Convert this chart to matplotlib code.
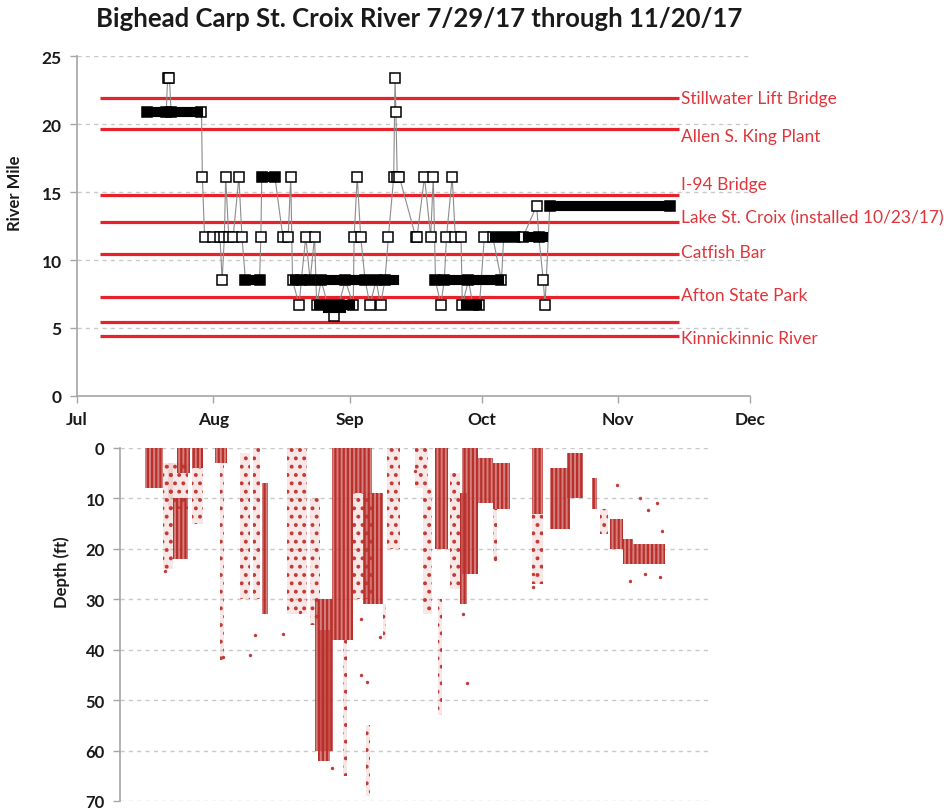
import matplotlib
matplotlib.use('Agg')
import matplotlib.pyplot as plt

plt.rcParams['font.family'] = ['Lato', 'DejaVu Sans']
plt.rcParams['hatch.linewidth'] = 1.6

# ---------------- data ----------------
TITLE = "Bighead Carp St. Croix River 7/29/17 through 11/20/17"
month_labels = ['Jul', 'Aug', 'Sep', 'Oct', 'Nov', 'Dec']
month_days = [0, 31, 62, 92, 123, 153]          # days since 1 Jul 2017

site_names = ['Stillwater Lift Bridge', 'Allen S. King Plant', 'I-94 Bridge',
              'Lake St. Croix (installed 10/23/17)', 'Catfish Bar',
              'Afton State Park', '', 'Kinnickinnic River']
site_miles = [21.9, 19.6, 14.8, 12.8, 10.45, 7.3, 5.45, 4.4]
site_start_day = 5.3
site_end_day = 136.8

# fish track: (day since Jul 1, river mile)
track_day = [16.0, 20.3, 20.6, 21.0, 21.4, 28.3, 28.5, 29.0, 31.0, 32.5, 33.0, 33.5,
             33.8, 34.5, 35.5, 36.8, 37.5, 38.3, 41.5, 41.8, 42.0, 45.0, 46.8, 48.0,
             48.6, 49.0, 50.5, 51.0, 52.0, 53.0, 54.0, 54.5, 55.5, 57.0, 58.5, 59.5,
             61.0, 62.8, 63.0, 63.7, 64.5, 65.5, 66.6, 68.0, 69.0, 70.0, 70.8, 72.0,
             72.3, 72.5, 72.8, 73.3, 77.0, 77.3, 79.0, 80.4, 81.0, 81.5, 82.7, 83.5,
             84.0, 85.3, 86.0, 87.3, 87.6, 89.0, 90.0, 91.5, 92.6, 94.5, 96.5, 97.0,
             99.5, 101.4, 104.5, 105.0, 106.0, 106.4, 107.5, 134.7]
track_mile = [20.9, 20.9, 23.4, 23.4, 20.9, 20.9, 16.1, 11.7, 11.7, 11.7, 8.5, 11.7,
              16.1, 11.7, 11.7, 16.1, 11.7, 8.5, 8.5, 11.7, 16.1, 16.1, 11.7, 11.7,
              16.1, 8.5, 6.7, 8.5, 11.7, 8.5, 11.7, 6.7, 8.5, 6.7, 5.9, 6.7,
              8.5, 6.7, 11.7, 16.1, 11.7, 8.5, 6.7, 8.5, 6.7, 8.5, 11.7, 16.1,
              23.4, 20.9, 16.1, 16.1, 11.7, 11.7, 16.1, 11.7, 16.1, 8.5, 6.7, 8.5,
              11.7, 16.1, 11.7, 11.7, 6.7, 8.5, 6.7, 6.7, 11.7, 11.7, 8.5, 11.7,
              11.7, 11.7, 14.0, 11.7, 8.5, 6.7, 14.0, 14.0]

# continuous detections at one receiver: (start day, end day, river mile)
run_start = [16.0, 38.3, 42.0, 49.5, 55.5, 64.0, 55.0, 57.0, 81.5, 88.5, 95.0, 102.5, 107.5]
run_end = [27.5, 41.5, 45.0, 53.0, 62.5, 72.0, 62.0, 60.0, 96.0, 91.0, 99.5, 106.0, 134.7]
run_mile = [20.9, 8.5, 16.1, 8.5, 8.5, 8.5, 6.7, 6.5, 8.5, 6.7, 11.7, 11.7, 14.0]

# depth detections, dense bands: (start day, end day, shallowest ft, deepest ft)
dense_start = [15.6, 23.0, 22.1, 26.4, 31.7, 42.5, 54.7, 55.4, 58.6, 63.4, 65.7,
               82.3, 88.5, 88.0, 92.0, 95.6, 104.6, 108.7, 112.6, 118.4, 122.5,
               125.5, 127.8]
dense_end = [19.8, 26.0, 25.5, 29.0, 34.5, 43.9, 58.9, 58.2, 63.4, 67.8, 70.3,
             85.3, 92.2, 89.7, 95.6, 99.5, 107.1, 113.3, 116.3, 119.5, 125.5,
             127.8, 135.2]
dense_top = [0, 0, 10, 0, 0, 7, 30, 36, 0, 0, 9,
             0, 0, 9, 2, 3, 0, 4, 1, 6, 14,
             18, 19]
dense_bottom = [8, 5, 22, 4, 3, 33, 60, 62, 38, 9, 31,
                20, 25, 31, 11, 12, 13, 16, 10, 12, 20,
                23, 23]

# depth detections, scattered bands
sparse_start = [19.8, 20.9, 26.4, 32.9, 37.5, 40.5, 48.3, 53.6, 61.1, 63.4, 70.3,
                66.4, 71.3, 77.7, 79.5, 83.0, 85.7, 95.6, 104.6, 120.2]
sparse_end = [22.1, 25.5, 29.0, 33.8, 39.8, 42.1, 52.9, 55.9, 62.1, 67.8, 71.0,
              67.4, 74.3, 80.7, 81.6, 83.9, 88.0, 96.6, 107.1, 122.1]
sparse_top = [3, 3, 4, 3, 1, 0, 0, 10, 38, 9, 31,
              55, 0, 0, 8, 30, 5, 12, 13, 12]
sparse_bottom = [24, 12, 15, 42, 30, 30, 33, 35, 65, 30, 38,
                  69, 20, 8, 33, 53, 28, 22, 27, 17]

# isolated depth detections
pt_day = [20.2, 33.6, 39.8, 40.9, 47.4, 51.3, 65.4, 65.4, 66.6, 69.7, 89.6, 58.6,
          77.7, 88.7, 96.1, 104.8, 104.8, 124.1, 129.4, 131.3, 133.3, 127.1, 134.4,
          134.0, 130.6]
pt_depth = [24.3, 41.4, 41.0, 37.0, 36.8, 32.6, 34.0, 45.0, 46.5, 37.5, 46.6, 63.5,
            4.6, 33.0, 22.1, 25.0, 27.6, 7.4, 10.0, 12.3, 11.0, 26.3, 16.5,
            25.6, 25.0]

# ---------------- figure ----------------
W, H = 945, 812
fig = plt.figure(figsize=(W / 100, H / 100), dpi=100)

RED = '#e8222a'
LABEL_RED = '#e0353a'
DOT_RED = '#c23b36'
GRID = '#c9c9c9'
SPINE = '#a6a6a6'
TXT = '#1a1a1a'

fig.text(419 / W, 1 - 19 / H, TITLE, ha='center', va='center',
         fontsize=18.5, fontweight='bold', color=TXT)

# ---- top: river mile ----
ax = fig.add_axes([77 / W, 1 - 397 / H, 673 / W, 340 / H])
ax.set_xlim(0, 153)
ax.set_ylim(0, 25)
for s in ['top', 'right']:
    ax.spines[s].set_visible(False)
for s in ['left', 'bottom']:
    ax.spines[s].set_color(SPINE)
    ax.spines[s].set_linewidth(1.2)
ax.set_yticks([0, 5, 10, 15, 20, 25])
ax.set_xticks(month_days)
ax.set_xticklabels(month_labels)
ax.tick_params(axis='both', colors=SPINE, labelcolor=TXT, labelsize=12.5,
               length=5, width=1)
for t in ax.get_xticklabels() + ax.get_yticklabels():
    t.set_fontweight('bold')
ax.tick_params(axis='x', pad=6)
ax.tick_params(axis='y', pad=6)
ax.yaxis.grid(True, linestyle=(0, (3, 3)), color=GRID, linewidth=1)
ax.set_axisbelow(True)
fig.text(15 / W, 1 - 193 / H, 'River Mile', rotation=90, ha='center', va='center',
         fontsize=12, fontweight='bold', color=TXT)

label_offsets = [0.0, -0.5, 0.8, 0.3, 0.15, 0.1, 0.0, -0.1]
for name, mile, off in zip(site_names, site_miles, label_offsets):
    ax.hlines(mile, site_start_day, site_end_day, color=RED, linewidth=2.3, zorder=2)
    if name:
        ax.text(site_end_day + 0.6, mile + off, name, color=LABEL_RED, fontsize=12.5,
                va='center', ha='left', clip_on=False)

ax.plot(track_day, track_mile, color='#8c8c8c', linewidth=0.8, zorder=3)
ax.plot(track_day, track_mile, linestyle='none', marker='s', markersize=7.3,
        markerfacecolor='white', markeredgecolor='black', markeredgewidth=1.1, zorder=5)
ax.hlines(run_mile, run_start, run_end, color='black', linewidth=7.3, zorder=6,
          capstyle='projecting')

# ---- bottom: depth ----
ax2 = fig.add_axes([120 / W, 1 - 802 / H, 592 / W, 353 / H])
ax2.set_xlim((120 - 77) / 4.35, (712 - 77) / 4.35)
ax2.set_ylim(70, 0)
for s in ['top', 'right', 'bottom']:
    ax2.spines[s].set_visible(False)
ax2.spines['left'].set_color(SPINE)
ax2.spines['left'].set_linewidth(1.2)
ax2.set_yticks([0, 10, 20, 30, 40, 50, 60, 70])
ax2.set_xticks([])
ax2.tick_params(axis='y', colors=SPINE, labelcolor=TXT, labelsize=12,
                length=5, width=1, pad=6)
for t in ax2.get_yticklabels():
    t.set_fontweight('bold')
ax2.yaxis.grid(True, linestyle=(0, (3, 3)), color=GRID, linewidth=1)
ax2.set_axisbelow(True)
fig.text(62 / W, 1 - 572 / H, 'Depth (ft)', rotation=90, ha='center', va='center',
         fontsize=12, fontweight='bold', color=TXT)

ax2.bar(sparse_start, [b - t for t, b in zip(sparse_top, sparse_bottom)],
        width=[e - s for s, e in zip(sparse_start, sparse_end)], bottom=sparse_top,
        align='edge', facecolor=(0.76, 0.23, 0.21, 0.12), edgecolor=DOT_RED,
        hatch='..', linewidth=0, zorder=2)
ax2.bar(dense_start, [b - t for t, b in zip(dense_top, dense_bottom)],
        width=[e - s for s, e in zip(dense_start, dense_end)], bottom=dense_top,
        align='edge', facecolor=(0.76, 0.23, 0.21, 0.65), edgecolor='#b8302c',
        hatch='||||', linewidth=0, zorder=3)
ax2.scatter(pt_day, pt_depth, s=6, color=DOT_RED, linewidths=0, zorder=4)

fig.savefig('out.png', dpi=100)
